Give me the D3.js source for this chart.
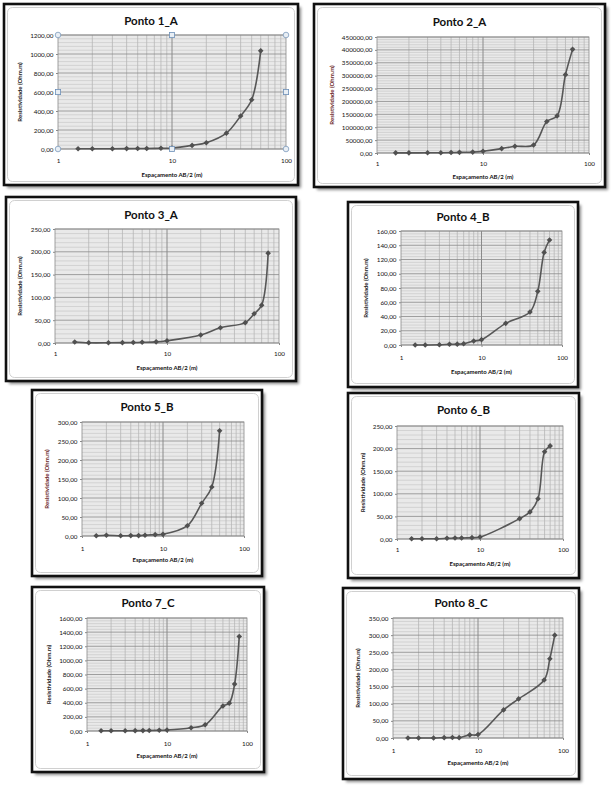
<!DOCTYPE html>
<html><head><meta charset="utf-8">
<script src="https://cdn.jsdelivr.net/npm/d3@7"></script>
<style>
body{margin:0;background:#fff;}
svg{display:block;}
text{font-family:Lato, Carlito, "Open Sans", sans-serif;}
</style>
</head><body>
<svg id="c" width="615" height="792"></svg>
<script>
// ---- data ----
const titles = ["Ponto 1_A","Ponto 2_A","Ponto 3_A","Ponto 4_B","Ponto 5_B","Ponto 6_B","Ponto 7_C","Ponto 8_C"];
const xAxisTitle = "Espaçamento AB/2 (m)";
const yAxisTitle = "Resistividade (Ohm.m)";
const xTickValues = [1, 10, 100];

const p1X = [1.5,2,3,4,5,6,8,10,15,20,30,40,50,60];
const p1Y = [2,2,3,4,5,6,8,10,38,66,167,348,518,1033];
const p2X = [1.5,2,3,4,5,6,8,10,15,20,30,40,50,60,70];
const p2Y = [500,600,800,1200,1800,2500,3500,7000,17000,26000,31000,122000,144000,304000,402000];
const p3X = [1.5,2,3,4,5,6,8,10,20,30,50,60,70,80];
const p3Y = [2.2,0.5,0.5,0.8,1,1.5,2.5,5,17.5,33.6,44.6,64,83,197];
const p4X = [1.5,2,3,4,5,6,8,10,20,40,50,60,70];
const p4Y = [0,0,0.3,1,1.2,1.8,5.6,7.5,30.4,46.3,75.3,130,147.4];
const p5X = [1.5,2,3,4,5,6,8,10,20,30,40,50];
const p5Y = [0.5,1.8,0.5,1,1,2,3.5,4.4,27,86,129,277];
const p6X = [1.5,2,3,4,5,6,8,10,30,40,50,60,70];
const p6Y = [0.7,0.7,0.7,1.5,2.2,2.2,3,4.4,45,60,89,193,206];
const p7X = [1.5,2,3,4,5,6,8,10,20,30,50,60,70,80];
const p7Y = [3,3,4,5,6,7,10,14,47,88,355,394,664,1338];
const p8X = [1.5,2,3,4,5,6,8,10,20,30,60,70,80];
const p8Y = [0,0,0,1,1.5,1,9,10,82,114,169,231,300];

const yMax  = [1200, 450000, 250, 160, 300, 250, 1600, 350];
const yStep = [200, 50000, 50, 20, 50, 50, 200, 50];

const seriesX = [p1X,p2X,p3X,p4X,p5X,p6X,p7X,p8X];
const seriesY = [p1Y,p2Y,p3Y,p4Y,p5Y,p6Y,p7Y,p8Y];

// ---- layout ----
const layout = [
  {frame:[4,4,298,185],   plot:[58,35,286,149],   tb:25,  xl:14, xt:28, yt:38, yc:"#222", handles:true},
  {frame:[314,4,605,187], plot:[377,37,589,153],  tb:26,  xl:13, xt:26, yt:45, yc:"#6b1f1f"},
  {frame:[6,197,296,381], plot:[55,229,279,343],  tb:219, xl:13, xt:27, yt:35, yc:"#222"},
  {frame:[348,202,578,387], plot:[401,231,562,345], tb:221, xl:15, xt:29, yt:35, yc:"#222"},
  {frame:[32,390,262,576], plot:[82,422,244,536],  tb:411, xl:15, xt:26, yt:35, yc:"#6b1f1f"},
  {frame:[348,393,579,578], plot:[397,426,563,539], tb:414, xl:13, xt:27, yt:34, yc:"#222"},
  {frame:[32,587,264,772], plot:[87,618,247,731],  tb:607, xl:15, xt:27, yt:38, yc:"#222"},
  {frame:[343,588,579,779], plot:[393,618,563,738], tb:607, xl:15, xt:27, yt:35, yc:"#222"}
];

const svg = d3.select("#c");
const defs = svg.append("defs");
defs.append("filter").attr("id","sh").attr("x","-10%").attr("y","-10%").attr("width","130%").attr("height","130%")
  .append("feGaussianBlur").attr("stdDeviation",1.6);

const fmtY = v => d3.format(".2f")(v).replace(".", ",");
const tickFont = 6.3;

layout.forEach((L, i) => {
  const [fx0, fy0, fx1, fy1] = L.frame;
  const [px0, py0, px1, py1] = L.plot;
  const g = svg.append("g");

  // shadow + frame
  g.append("rect").attr("x", fx0 + 3).attr("y", fy0 + 3).attr("width", fx1 - fx0).attr("height", fy1 - fy0)
    .attr("fill", "#8a8a8a").attr("filter", "url(#sh)");
  g.append("rect").attr("x", fx0).attr("y", fy0).attr("width", fx1 - fx0).attr("height", fy1 - fy0)
    .attr("fill", "#fff").attr("stroke", "#111").attr("stroke-width", 2.6);
  g.append("rect").attr("x", fx0 + 3.5).attr("y", fy0 + 3.5).attr("width", fx1 - fx0 - 7).attr("height", fy1 - fy0 - 7)
    .attr("rx", 5).attr("fill", "#fff").attr("stroke", "#c4c4c4").attr("stroke-width", 0.8);

  // title
  g.append("text").attr("x", (fx0 + fx1) / 2).attr("y", L.tb).attr("text-anchor", "middle")
    .attr("font-size", 11.5).attr("font-weight", "bold").attr("fill", "#111").text(titles[i]);

  const x = d3.scaleLog().domain([1, 100]).range([px0, px1]);
  const y = d3.scaleLinear().domain([0, yMax[i]]).range([py1, py0]);

  // plot background
  g.append("rect").attr("x", px0).attr("y", py0).attr("width", px1 - px0).attr("height", py1 - py0)
    .attr("fill", "#e9e9e9");

  // minor horizontal gridlines
  const minorStep = yStep[i] / 5;
  const minorY = d3.range(0, yMax[i] + minorStep / 2, minorStep).filter((v, k) => k % 5 !== 0);
  g.selectAll(null).data(minorY).join("line")
    .attr("x1", px0).attr("x2", px1).attr("y1", d => y(d)).attr("y2", d => y(d))
    .attr("stroke", "#c3c3c3").attr("stroke-width", 0.6);

  // minor vertical gridlines
  const minorX = [];
  [1, 10].forEach(d => { for (let k = 2; k <= 9; k++) minorX.push(k * d); });
  g.selectAll(null).data(minorX).join("line")
    .attr("x1", d => x(d)).attr("x2", d => x(d)).attr("y1", py0).attr("y2", py1)
    .attr("stroke", "#b6b6b6").attr("stroke-width", 0.8);

  // major gridlines
  const yTicks = d3.range(0, yMax[i] + yStep[i] / 2, yStep[i]);
  g.selectAll(null).data(yTicks).join("line")
    .attr("x1", px0).attr("x2", px1).attr("y1", d => y(d)).attr("y2", d => y(d))
    .attr("stroke", "#8a8a8a").attr("stroke-width", 0.8);
  g.append("line").attr("x1", x(10)).attr("x2", x(10)).attr("y1", py0).attr("y2", py1)
    .attr("stroke", "#8a8a8a").attr("stroke-width", 1);

  // plot border
  g.append("rect").attr("x", px0).attr("y", py0).attr("width", px1 - px0).attr("height", py1 - py0)
    .attr("fill", "none").attr("stroke", "#8a8a8a").attr("stroke-width", 0.8);

  // axes
  const yAxis = d3.axisLeft(y).tickValues(yTicks).tickFormat(fmtY).tickSize(2).tickPadding(2.5);
  const ya = g.append("g").attr("transform", `translate(${px0},0)`).call(yAxis);
  ya.select(".domain").remove();
  ya.selectAll("line").attr("stroke", "#8a8a8a");
  ya.selectAll("text").attr("font-size", tickFont).attr("fill", "#111").attr("font-family", null);

  const pad = L.xl - 2 - 0.71 * tickFont;
  const xAxis = d3.axisBottom(x).tickValues(xTickValues).tickFormat(d3.format("d")).tickSize(2).tickPadding(pad);
  const xa = g.append("g").attr("transform", `translate(0,${py1})`).call(xAxis);
  xa.select(".domain").remove();
  xa.selectAll("line").attr("stroke", "#8a8a8a");
  xa.selectAll("text").attr("font-size", tickFont).attr("fill", "#111").attr("font-family", null);

  // axis titles
  g.append("text").attr("x", (px0 + px1) / 2).attr("y", py1 + L.xt).attr("text-anchor", "middle")
    .attr("font-size", 6).attr("font-weight", "bold").attr("fill", "#111").text(xAxisTitle);
  g.append("text").attr("transform", `translate(${px0 - L.yt + 2},${(py0 + py1) / 2}) rotate(-90)`)
    .attr("text-anchor", "middle").attr("font-size", 6).attr("font-weight", "bold").attr("fill", L.yc)
    .text(yAxisTitle);

  // series
  const pts = seriesX[i].map((v, k) => [v, seriesY[i][k]]);
  const line = d3.line().x(d => x(d[0])).y(d => y(d[1])).curve(d3.curveCatmullRom.alpha(0.5));
  g.append("path").attr("d", line(pts)).attr("fill", "none").attr("stroke", "#575757").attr("stroke-width", 1.6);
  const r = 2.8;
  g.selectAll(null).data(pts).join("path")
    .attr("transform", d => `translate(${x(d[0])},${y(d[1])})`)
    .attr("d", `M0,${-r}L${r},0L0,${r}L${-r},0Z`)
    .attr("fill", "#505050");

  // selection handles (chart selected in Excel)
  if (L.handles) {
    const cx = [px0, (px0 + px1) / 2, px1], cy = [py0, (py0 + py1) / 2, py1];
    cx.forEach((hx, a) => cy.forEach((hy, b) => {
      if (a === 1 && b === 1) return;
      const corner = (a !== 1 && b !== 1);
      if (corner) {
        g.append("circle").attr("cx", hx).attr("cy", hy).attr("r", 2.8)
          .attr("fill", "#e8eef4").attr("stroke", "#7c9bbd").attr("stroke-width", 0.8);
      } else {
        g.append("rect").attr("x", hx - 2.6).attr("y", hy - 2.6).attr("width", 5.2).attr("height", 5.2)
          .attr("fill", "#e8eef4").attr("stroke", "#6d90b8").attr("stroke-width", 0.8);
      }
    }));
  }
});
</script>
</body></html>
